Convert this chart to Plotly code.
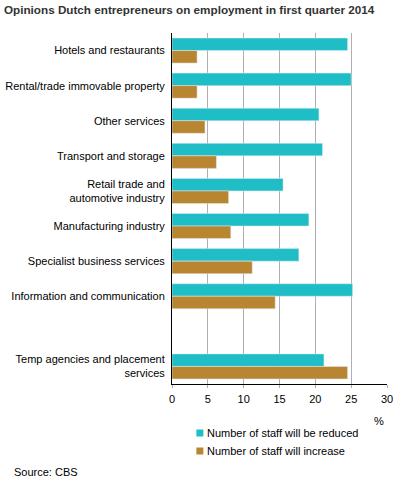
import plotly.graph_objects as go

categories = ["Hotels and restaurants", "Rental/trade immovable property", "Other services",
              "Transport and storage", "Retail trade and<br>automotive industry",
              "Manufacturing industry", "Specialist business services",
              "Information and communication", " ", "Temp agencies and placement<br>services"]
reduced = [24.5, 25.0, 20.5, 21.0, 15.5, 19.1, 17.7, 25.2, None, 21.2]
increase = [3.5, 3.5, 4.6, 6.2, 7.9, 8.2, 11.2, 14.4, None, 24.5]
x_ticks = [0, 5, 10, 15, 20, 25, 30]
series_names = ["Number of staff will be reduced", "Number of staff will increase"]

TEAL = "#1fbdc6"
BROWN = "#b88530"
COLORS = [TEAL, BROWN]
W, H = 397, 479
L, R, T, B = 171.5, 387.5, 33, 384
FONT = "Liberation Sans, Arial, sans-serif"

def px(x):
    return (x - L) / (R - L)

def py(y):
    return (B - y) / (B - T)

fig = go.Figure()
for vals, name, col in zip([reduced, increase], series_names, COLORS):
    fig.add_trace(go.Bar(y=categories, x=vals, orientation="h", marker_color=col,
                         name=name, showlegend=False, hoverinfo="skip"))

shapes = []
annotations = []
legend_y = [433, 451]
for name, col, yc in zip(series_names, COLORS, legend_y):
    shapes.append(dict(type="rect", xref="paper", yref="paper",
                       x0=px(196), x1=px(203), y0=py(yc - 3.5), y1=py(yc + 3.5),
                       fillcolor=col, line=dict(width=0)))
    annotations.append(dict(text=name, x=px(205), y=py(yc), xref="paper", yref="paper",
                            showarrow=False, xanchor="left", yanchor="middle",
                            font=dict(size=11, color="#000")))
annotations.append(dict(text="%", x=px(379), y=py(421), xref="paper", yref="paper",
                        showarrow=False, xanchor="center", yanchor="middle",
                        font=dict(size=11, color="#000")))
annotations.append(dict(text="Source: CBS", x=px(11), y=py(472), xref="paper", yref="paper",
                        showarrow=False, xanchor="left", yanchor="middle",
                        font=dict(size=11, color="#000")))

fig.update_layout(
    width=W, height=H,
    margin=dict(l=L, r=W - R, t=T, b=H - B, pad=0, autoexpand=False),
    paper_bgcolor="white", plot_bgcolor="white",
    barmode="group", bargap=0.286, bargroupgap=0,
    font=dict(family=FONT, size=11, color="#000"),
    title=dict(text="<b>Opinions Dutch entrepreneurs on employment in first quarter 2014</b>",
               x=4 / W, xanchor="left", xref="container",
               y=1 - 10 / H, yanchor="middle", yref="container",
               font=dict(family=FONT, size=11.7, color="#333")),
    showlegend=False,
    xaxis=dict(range=[0, 30], tickvals=x_ticks, showgrid=True, gridcolor="#b0b0b0",
               gridwidth=1, zeroline=False, showline=True, linecolor="#000",
               ticks="outside", ticklen=3, tickcolor="#b0b0b0", ticklabelstandoff=2,
               tickfont=dict(size=11, color="#000")),
    yaxis=dict(categoryorder="array", categoryarray=categories, autorange="reversed",
               showline=True, linecolor="#000", ticks="", ticklabelstandoff=4,
               showgrid=False, tickfont=dict(size=11, color="#000")),
    shapes=shapes,
    annotations=annotations,
)
fig.write_html("out.html", config={"displayModeBar": False},
               post_script="document.body.style.margin='0';")
